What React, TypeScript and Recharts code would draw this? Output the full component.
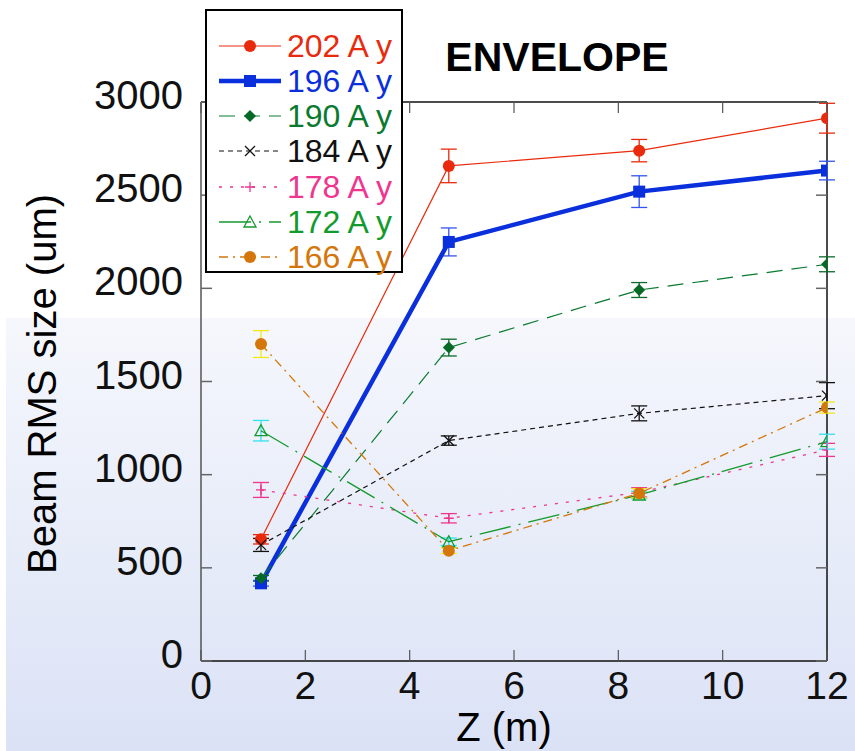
import React from "react";
import { LineChart, Line, XAxis, YAxis, ErrorBar, ReferenceLine } from "recharts";

// Z positions of the measurement stations (m)
const zPos = [1.15, 4.75, 8.4, 12];
const xTicks = [0, 2, 4, 6, 8, 10, 12];
const yTicks = [0, 500, 1000, 1500, 2000, 2500, 3000];

// beam RMS size (um) and error for each current setting
const size202 = [653, 2657, 2739, 2913];
const err202 = [25, 90, 60, 80];
const size196 = [417, 2249, 2519, 2632];
const err196 = [15, 75, 85, 50];
const size190 = [444, 1682, 1991, 2129];
const err190 = [15, 45, 40, 40];
const size184 = [623, 1183, 1329, 1424];
const err184 = [35, 25, 40, 70];
const size178 = [918, 766, 905, 1133];
const err178 = [40, 25, 25, 35];
const size172 = [1236, 640, 891, 1177];
const err172 = [55, 20, 20, 40];
const size166 = [1701, 592, 900, 1360];
const err166 = [72, 15, 25, 30];

const FONT = "'Liberation Sans', Arial, sans-serif";

// plot frame, follows from the chart margins below
const W = 855;
const H = 751;
const M_TOP = 102;
const M_RIGHT = 28;
const Y_AXIS_W = 201;
const X_AXIS_H = 90;
const PLOT_RIGHT = W - M_RIGHT;
const PLOT_TOP = M_TOP;
const TICK = 11;

type Kind = "circle" | "square" | "diamond" | "cross" | "plus" | "triangle";

const series = [
  { name: "202 A y", vals: size202, errs: err202, color: "#ea2a0c", errColor: "#ea2a0c", width: 1.2, dash: undefined, kind: "circle" as Kind },
  { name: "196 A y", vals: size196, errs: err196, color: "#0a2fdc", errColor: "#3355ee", width: 4.5, dash: undefined, kind: "square" as Kind },
  { name: "190 A y", vals: size190, errs: err190, color: "#0a7a30", errColor: "#0a6a28", width: 1.2, dash: "16 9", kind: "diamond" as Kind },
  { name: "184 A y", vals: size184, errs: err184, color: "#111111", errColor: "#111111", width: 1.2, dash: "5 4", kind: "cross" as Kind },
  { name: "178 A y", vals: size178, errs: err178, color: "#f0358f", errColor: "#f0358f", width: 1.3, dash: "3 8", kind: "plus" as Kind },
  { name: "172 A y", vals: size172, errs: err172, color: "#139a2c", errColor: "#33e0f0", width: 1.3, dash: "32 8 2 8", kind: "triangle" as Kind },
  { name: "166 A y", vals: size166, errs: err166, color: "#d4760a", errColor: "#f2e818", width: 1.3, dash: "9 5 2 5", kind: "circle" as Kind },
];

const markerFill: Record<string, string> = {
  "202 A y": "#ea2a0c",
  "196 A y": "#0a2fdc",
  "190 A y": "#066a26",
  "184 A y": "#111111",
  "178 A y": "#f0358f",
  "172 A y": "#139a2c",
  "166 A y": "#d4760a",
};

function Marker({ cx, cy, kind, color }: { cx: number; cy: number; kind: Kind; color: string }) {
  if (cx == null || cy == null) return null;
  switch (kind) {
    case "circle":
      return <circle cx={cx} cy={cy} r={6} fill={color} />;
    case "square":
      return <rect x={cx - 6} y={cy - 6} width={12} height={12} fill={color} />;
    case "diamond":
      return <path d={`M${cx},${cy - 6} L${cx + 6},${cy} L${cx},${cy + 6} L${cx - 6},${cy} Z`} fill={color} />;
    case "cross":
      return <path d={`M${cx - 5},${cy - 5} L${cx + 5},${cy + 5} M${cx - 5},${cy + 5} L${cx + 5},${cy - 5}`} stroke={color} strokeWidth={1.3} />;
    case "plus":
      return <path d={`M${cx - 5},${cy} L${cx + 5},${cy} M${cx},${cy - 5} L${cx},${cy + 5}`} stroke={color} strokeWidth={1.3} />;
    case "triangle":
      return <path d={`M${cx},${cy - 6} L${cx + 6},${cy + 5} L${cx - 6},${cy + 5} Z`} fill="none" stroke={color} strokeWidth={1.3} />;
  }
  return null;
}

// y tick: label plus inward tick marks on both the left and right frame
const LeftTick = ({ x, y, payload }: any) => {
  const tx = Number(x);
  const ty = Number(y);
  const axisX = tx + 18;
  return (
    <g>
      <text x={tx} y={ty} dy={7} textAnchor="end" fontSize={40} fontFamily={FONT} fill="#111">
        {payload.value}
      </text>
      <line x1={axisX} x2={axisX + TICK} y1={ty} y2={ty} stroke="#666" strokeWidth={1.5} />
      <line x1={PLOT_RIGHT - TICK} x2={PLOT_RIGHT} y1={ty} y2={ty} stroke="#666" strokeWidth={1.5} />
    </g>
  );
};

// x tick: label plus inward tick marks on the bottom and top frame
const BottomTick = ({ x, y, payload }: any) => {
  const tx = Number(x);
  const ty = Number(y);
  const axisY = ty - 9;
  return (
    <g>
      <text x={tx} y={ty} dy={29} textAnchor="middle" fontSize={39} fontFamily={FONT} fill="#111">
        {payload.value}
      </text>
      <line x1={tx} x2={tx} y1={axisY} y2={axisY - TICK} stroke="#555" strokeWidth={1.2} />
      <line x1={tx} x2={tx} y1={PLOT_TOP} y2={PLOT_TOP + TICK} stroke="#555" strokeWidth={1.2} />
    </g>
  );
};

function LegendBox() {
  const rowY = [37, 72, 107, 142, 178, 213, 248];
  return (
    <svg width={198} height={264} style={{ position: "absolute", left: 205, top: 9, overflow: "visible" }}>
      <rect x={1} y={1} width={196} height={262} fill="#fff" stroke="#000" strokeWidth={2} />
      {series.map((s, i) => (
        <g key={s.name}>
          <line
            x1={14}
            x2={76}
            y1={rowY[i]}
            y2={rowY[i]}
            stroke={s.color}
            strokeWidth={s.width}
            strokeDasharray={s.dash}
          />
          <Marker cx={45} cy={rowY[i]} kind={s.kind} color={markerFill[s.name]} />
          <text x={82} y={rowY[i]} dy={11} fontSize={32} fontFamily={FONT} fill={s.color}>
            {s.name}
          </text>
        </g>
      ))}
    </svg>
  );
}

export default function App() {
  return (
    <div style={{ position: "absolute", left: 0, top: 0, width: W, height: H, background: "#fff", overflow: "hidden" }}>
      <div
        style={{
          position: "absolute",
          left: 6,
          top: 318,
          width: 849,
          height: 433,
          background: "linear-gradient(#f5f7fc, #dbe2f6)",
        }}
      />
      <div style={{ position: "absolute", left: 0, top: 0 }}>
        <LineChart width={W} height={H} margin={{ top: M_TOP, right: M_RIGHT, bottom: 0, left: 0 }}>
          <XAxis
            xAxisId="b"
            type="number"
            dataKey="z"
            domain={[0, 12]}
            ticks={xTicks}
            height={X_AXIS_H}
            tickSize={0}
            tickMargin={9}
            tick={<BottomTick />}
            axisLine={{ stroke: "#111", strokeWidth: 1.5 }}
            tickLine={false}
            allowDataOverflow
          />
          <YAxis
            yAxisId="l"
            type="number"
            domain={[0, 3000]}
            ticks={yTicks}
            width={Y_AXIS_W}
            tickSize={0}
            tickMargin={18}
            tick={<LeftTick />}
            axisLine={{ stroke: "#555", strokeWidth: 1.5 }}
            tickLine={false}
            allowDataOverflow
          />
          {/* top and right sides of the frame */}
          <ReferenceLine xAxisId="b" yAxisId="l" y={3000} stroke="#111" strokeWidth={1.5} ifOverflow="visible" />
          <ReferenceLine xAxisId="b" yAxisId="l" x={12} stroke="#111" strokeWidth={1.5} ifOverflow="visible" />
          {series.map((s) => {
            const data = zPos.map((z, i) => ({ z, v: s.vals[i], e: s.errs[i] }));
            return (
              <Line
                key={s.name}
                xAxisId="b"
                yAxisId="l"
                data={data}
                dataKey="v"
                name={s.name}
                stroke={s.color}
                strokeWidth={s.width}
                strokeDasharray={s.dash}
                isAnimationActive={false}
                dot={(p: any) => (
                  <Marker key={`${s.name}-${p.index}`} cx={p.cx} cy={p.cy} kind={s.kind} color={markerFill[s.name]} />
                )}
                activeDot={false}
              >
                <ErrorBar dataKey="e" width={8} stroke={s.errColor} strokeWidth={1.3} direction="y" />
              </Line>
            );
          })}
        </LineChart>
      </div>
      <div
        style={{
          position: "absolute",
          left: 557,
          top: 57,
          transform: "translate(-50%, -50%)",
          fontFamily: FONT,
          fontWeight: 700,
          fontSize: 41,
          lineHeight: 1,
          whiteSpace: "nowrap",
          color: "#000",
        }}
      >
        ENVELOPE
      </div>
      <div
        style={{
          position: "absolute",
          left: 42,
          top: 384,
          transform: "translate(-50%, -50%) rotate(-90deg)",
          fontFamily: FONT,
          fontSize: 40,
          lineHeight: 1,
          whiteSpace: "nowrap",
          color: "#000",
        }}
      >
        Beam RMS size (um)
      </div>
      <div
        style={{
          position: "absolute",
          left: 504,
          top: 727,
          transform: "translate(-50%, -50%)",
          fontFamily: FONT,
          fontSize: 40,
          lineHeight: 1,
          whiteSpace: "nowrap",
          color: "#000",
        }}
      >
        Z (m)
      </div>
      <LegendBox />
    </div>
  );
}
